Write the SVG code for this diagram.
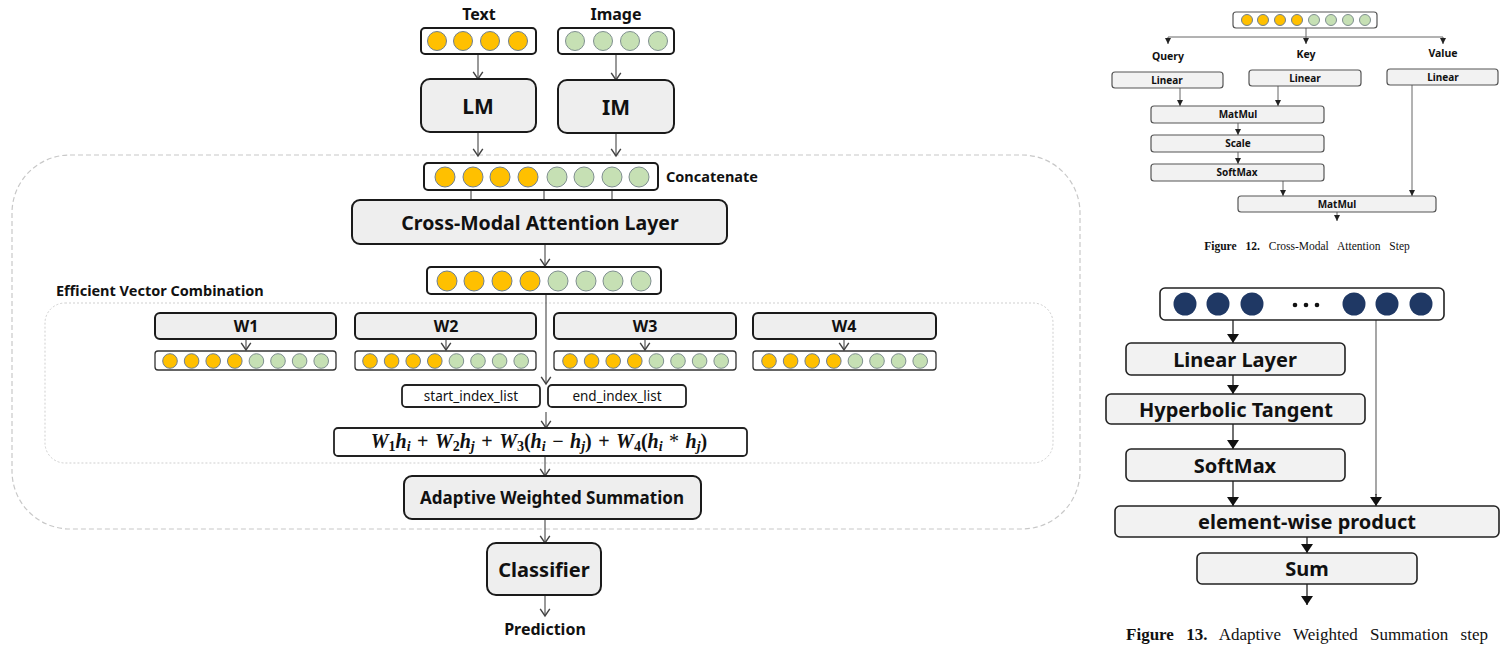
<svg xmlns="http://www.w3.org/2000/svg" xmlns:xlink="http://www.w3.org/1999/xlink" width="1512" height="652" viewBox="0 0 1512 652">
<style>
text{font-family:"Noto Sans","Liberation Sans",sans-serif;fill:#111}
.b{font-weight:bold}
.box{fill:#eeeeee;stroke:#1a1a1a;stroke-width:2}
.vec{fill:#ffffff;stroke:#1a1a1a;stroke-width:2}
.vecs{fill:#ffffff;stroke:#333;stroke-width:1.3}
.o{fill:#ffc000;stroke:#6f7f8f;stroke-width:1}
.g{fill:#c6e0b4;stroke:#7f8f8f;stroke-width:1}
.n{fill:#1f3864}
.ln{stroke:#555;stroke-width:1.2;fill:none}
.la{stroke:#555;stroke-width:1.2;fill:none;marker-end:url(#oa)}
.f12{fill:#f2f2f2;stroke:#555;stroke-width:1.2}
.l12{stroke:#666;stroke-width:1;fill:none}
.a12{stroke:#666;stroke-width:1;fill:none;marker-end:url(#fa12)}
.f13{fill:#f2f2f2;stroke:#222;stroke-width:1.6}
.a13{stroke:#222;stroke-width:1.3;fill:none;marker-end:url(#fa13)}
.l13{stroke:#777;stroke-width:1.3;fill:none}
.serif{font-family:"Liberation Serif","Times New Roman",serif}
.sub{font-size:14px}
.up{font-style:normal}
</style>
<defs>
<marker id="oa" markerUnits="userSpaceOnUse" markerWidth="12" markerHeight="12" viewBox="0 0 8 10" refX="7" refY="5" orient="auto">
<path d="M1,1 L7,5 L1,9" fill="none" stroke="#444" stroke-width="1.2"/>
</marker>
<marker id="fa12" markerUnits="userSpaceOnUse" markerWidth="6" markerHeight="6" viewBox="0 0 6 6" refX="6" refY="3" orient="auto">
<path d="M0,0 L6,3 L0,6 z" fill="#222"/>
</marker>
<marker id="fa13" markerUnits="userSpaceOnUse" markerWidth="10" markerHeight="12" viewBox="0 0 9 12" refX="9" refY="6" orient="auto">
<path d="M0,0 L9,6 L0,12 z" fill="#111"/>
</marker>
<g id="row8">
<circle class="o" cx="15" cy="10" r="7.3"/><circle class="o" cx="36.6" cy="10" r="7.3"/><circle class="o" cx="58.2" cy="10" r="7.3"/><circle class="o" cx="79.8" cy="10" r="7.3"/>
<circle class="g" cx="101.4" cy="10" r="7.3"/><circle class="g" cx="123" cy="10" r="7.3"/><circle class="g" cx="144.6" cy="10" r="7.3"/><circle class="g" cx="166.2" cy="10" r="7.3"/>
</g>
</defs>
<rect width="1512" height="652" fill="#ffffff"/>

<!-- containers -->
<g id="outer-container">
<rect x="12" y="155" width="1068" height="374" rx="58" fill="none" stroke="#c8c8c8" stroke-width="1.2" stroke-dasharray="5,3"/>
</g>
<g id="evc-container">
<rect x="45" y="303" width="1008" height="160" rx="20" fill="none" stroke="#cfcfcf" stroke-width="1" stroke-dasharray="2,2"/>
<text x="56" y="296" class="b" font-size="14.5">Efficient Vector Combination</text>
</g>

<!-- connectors -->
<g id="connectors">
<line class="la" x1="478" y1="54" x2="478" y2="79"/>
<line class="la" x1="616" y1="54" x2="616" y2="80"/>
<line class="la" x1="478" y1="132" x2="478" y2="156"/>
<line class="la" x1="616" y1="133" x2="616" y2="156"/>
<line class="ln" x1="471" y1="190" x2="471" y2="200"/>
<line class="ln" x1="544" y1="190" x2="544" y2="200"/>
<line class="ln" x1="612" y1="190" x2="612" y2="200"/>
<line class="la" x1="545" y1="244" x2="545" y2="266"/>
<line class="la" x1="546" y1="295" x2="546" y2="384"/>
<line class="la" x1="246" y1="339" x2="246" y2="350"/>
<line class="la" x1="446" y1="339" x2="446" y2="350"/>
<line class="la" x1="645" y1="339" x2="645" y2="350"/>
<line class="la" x1="844" y1="339" x2="844" y2="350"/>
<line class="la" x1="546" y1="412" x2="546" y2="428"/>
<line class="la" x1="545" y1="456" x2="545" y2="476"/>
<line class="la" x1="545" y1="519" x2="545" y2="543"/>
<line class="la" x1="545" y1="595" x2="545" y2="616"/>
</g>

<!-- main nodes -->
<g id="text-label"><text x="479" y="20" text-anchor="middle" class="b" font-size="16">Text</text></g>
<g id="image-label"><text x="616" y="20" text-anchor="middle" class="b" font-size="16">Image</text></g>
<g id="text-vector">
<rect class="vec" x="421" y="28" width="115" height="26" rx="4"/>
<circle class="o" cx="437" cy="41" r="9.5"/><circle class="o" cx="463" cy="41" r="9.5"/><circle class="o" cx="490" cy="41" r="9.5"/><circle class="o" cx="518" cy="41" r="9.5"/>
</g>
<g id="image-vector">
<rect class="vec" x="558" y="28" width="116" height="26" rx="4"/>
<circle class="g" cx="575" cy="41" r="9.5"/><circle class="g" cx="603" cy="41" r="9.5"/><circle class="g" cx="630" cy="41" r="9.5"/><circle class="g" cx="658" cy="41" r="9.5"/>
</g>
<g id="lm"><rect class="box" x="421" y="79" width="115" height="53" rx="9"/><text x="478" y="114" text-anchor="middle" class="b" font-size="21">LM</text></g>
<g id="im"><rect class="box" x="558" y="80" width="116" height="53" rx="9"/><text x="616" y="115" text-anchor="middle" class="b" font-size="21">IM</text></g>

<g id="concat-vector">
<rect class="vec" x="424" y="163" width="234" height="27" rx="4"/>
<circle class="o" cx="445" cy="177" r="10"/><circle class="o" cx="473" cy="177" r="10"/><circle class="o" cx="500" cy="177" r="10"/><circle class="o" cx="528" cy="177" r="10"/>
<circle class="g" cx="557" cy="177" r="10"/><circle class="g" cx="584" cy="177" r="10"/><circle class="g" cx="612" cy="177" r="10"/><circle class="g" cx="639" cy="177" r="10"/>
<text x="666" y="182" class="b" font-size="14.5">Concatenate</text>
</g>
<g id="cross-modal"><rect class="box" x="352" y="200" width="375" height="44" rx="8"/><text x="540" y="230" text-anchor="middle" class="b" font-size="19.5">Cross-Modal Attention Layer</text></g>
<g id="attn-vector">
<rect class="vec" x="427" y="267" width="234" height="27" rx="4"/>
<circle class="o" cx="447" cy="281" r="10"/><circle class="o" cx="474" cy="281" r="10"/><circle class="o" cx="502" cy="281" r="10"/><circle class="o" cx="530" cy="281" r="10"/>
<circle class="g" cx="558" cy="281" r="10"/><circle class="g" cx="586" cy="281" r="10"/><circle class="g" cx="613" cy="281" r="10"/><circle class="g" cx="641" cy="281" r="10"/>
</g>

<g id="w1"><rect class="box" x="155" y="313" width="181" height="26" rx="5"/><text x="246" y="332" text-anchor="middle" class="b" font-size="16">W1</text>
<rect class="vecs" x="155" y="351" width="181" height="19" rx="3"/><use xlink:href="#row8" x="155" y="351"/></g>
<g id="w2"><rect class="box" x="355" y="313" width="181" height="26" rx="5"/><text x="446" y="332" text-anchor="middle" class="b" font-size="16">W2</text>
<rect class="vecs" x="355" y="351" width="181" height="19" rx="3"/><use xlink:href="#row8" x="355" y="351"/></g>
<g id="w3"><rect class="box" x="554" y="313" width="182" height="26" rx="5"/><text x="645" y="332" text-anchor="middle" class="b" font-size="16">W3</text>
<rect class="vecs" x="554" y="351" width="182" height="19" rx="3"/><use xlink:href="#row8" x="555" y="351"/></g>
<g id="w4"><rect class="box" x="753" y="313" width="183" height="26" rx="5"/><text x="844" y="332" text-anchor="middle" class="b" font-size="16">W4</text>
<rect class="vecs" x="753" y="351" width="183" height="19" rx="3"/><use xlink:href="#row8" x="754" y="351"/></g>

<g id="start-index"><rect x="402" y="385" width="138" height="22" rx="4" fill="#fff" stroke="#222" stroke-width="1.8"/><text x="471" y="401" text-anchor="middle" font-size="13.5">start_index_list</text></g>
<g id="end-index"><rect x="548" y="385" width="138" height="22" rx="4" fill="#fff" stroke="#222" stroke-width="1.8"/><text x="617" y="401" text-anchor="middle" font-size="13.5">end_index_list</text></g>

<g id="formula"><rect x="334" y="428" width="413" height="28" rx="4" fill="#fff" stroke="#222" stroke-width="1.8"/>
<text x="539" y="448" text-anchor="middle" class="serif" font-weight="bold" font-style="italic" font-size="20" word-spacing="1.5">W<tspan class="sub up" dy="3">1</tspan><tspan dy="-3">h</tspan><tspan class="sub" dy="3">i</tspan><tspan class="up" dy="-3"> + </tspan>W<tspan class="sub up" dy="3">2</tspan><tspan dy="-3">h</tspan><tspan class="sub" dy="3">j</tspan><tspan class="up" dy="-3"> + </tspan>W<tspan class="sub up" dy="3">3</tspan><tspan class="up" dy="-3">(</tspan>h<tspan class="sub" dy="3">i</tspan><tspan class="up" dy="-3"> − </tspan>h<tspan class="sub" dy="3">j</tspan><tspan class="up" dy="-3">) + </tspan>W<tspan class="sub up" dy="3">4</tspan><tspan class="up" dy="-3">(</tspan>h<tspan class="sub" dy="3">i</tspan><tspan class="up" font-weight="normal" dy="-3"> * </tspan>h<tspan class="sub" dy="3">j</tspan><tspan class="up" dy="-3">)</tspan></text></g>

<g id="aws"><rect class="box" x="404" y="476" width="297" height="43" rx="8"/><text x="552" y="504" text-anchor="middle" class="b" font-size="17">Adaptive Weighted Summation</text></g>
<g id="classifier"><rect class="box" x="487" y="543" width="114" height="52" rx="9"/><text x="544" y="577" text-anchor="middle" class="b" font-size="20">Classifier</text></g>
<g id="prediction"><text x="545" y="635" text-anchor="middle" class="b" font-size="16">Prediction</text></g>

<!-- Figure 12 -->
<g id="fig12-connectors">
<line class="l12" x1="1306" y1="28" x2="1306" y2="37"/>
<line class="l12" x1="1168" y1="37" x2="1443" y2="37"/>
<line class="a12" x1="1168" y1="37" x2="1168" y2="44"/>
<line class="a12" x1="1306" y1="37" x2="1306" y2="44"/>
<line class="a12" x1="1443" y1="37" x2="1443" y2="44"/>
<line class="a12" x1="1180" y1="88" x2="1180" y2="106"/>
<line class="a12" x1="1278" y1="86" x2="1278" y2="106"/>
<line class="a12" x1="1238" y1="123" x2="1238" y2="135"/>
<line class="a12" x1="1238" y1="152" x2="1238" y2="164"/>
<line class="a12" x1="1283" y1="181" x2="1283" y2="196"/>
<line class="a12" x1="1412" y1="85" x2="1412" y2="196"/>
<line class="a12" x1="1337" y1="212" x2="1337" y2="221"/>
</g>
<g id="fig12-vector">
<rect x="1233" y="12" width="144" height="16" rx="3" fill="#fff" stroke="#555" stroke-width="1.2"/>
<circle class="o" cx="1247" cy="20" r="5.5"/><circle class="o" cx="1263" cy="20" r="5.5"/><circle class="o" cx="1280" cy="20" r="5.5"/><circle class="o" cx="1297" cy="20" r="5.5"/>
<circle class="g" cx="1314" cy="20" r="5.5"/><circle class="g" cx="1331" cy="20" r="5.5"/><circle class="g" cx="1348" cy="20" r="5.5"/><circle class="g" cx="1365" cy="20" r="5.5"/>
</g>
<g id="fig12-labels">
<text x="1168" y="60" text-anchor="middle" class="b" font-size="10.5">Query</text>
<text x="1306" y="58" text-anchor="middle" class="b" font-size="10.5">Key</text>
<text x="1443" y="57" text-anchor="middle" class="b" font-size="10.5">Value</text>
</g>
<g id="fig12-q-linear"><rect class="f12" x="1112" y="72" width="111" height="16" rx="3"/><text x="1167" y="84" text-anchor="middle" class="b" font-size="10">Linear</text></g>
<g id="fig12-k-linear"><rect class="f12" x="1249" y="70" width="112" height="16" rx="3"/><text x="1305" y="82" text-anchor="middle" class="b" font-size="10">Linear</text></g>
<g id="fig12-v-linear"><rect class="f12" x="1387" y="69" width="111" height="16" rx="3"/><text x="1443" y="81" text-anchor="middle" class="b" font-size="10">Linear</text></g>
<g id="fig12-matmul1"><rect class="f12" x="1151" y="106" width="173" height="17" rx="3"/><text x="1238" y="118" text-anchor="middle" class="b" font-size="10">MatMul</text></g>
<g id="fig12-scale"><rect class="f12" x="1151" y="135" width="173" height="17" rx="3"/><text x="1238" y="147" text-anchor="middle" class="b" font-size="10">Scale</text></g>
<g id="fig12-softmax"><rect class="f12" x="1151" y="164" width="173" height="17" rx="3"/><text x="1237" y="176" text-anchor="middle" class="b" font-size="10">SoftMax</text></g>
<g id="fig12-matmul2"><rect class="f12" x="1238" y="196" width="198" height="16" rx="3"/><text x="1337" y="208" text-anchor="middle" class="b" font-size="10">MatMul</text></g>
<g id="fig12-caption"><text x="1307" y="250" text-anchor="middle" class="serif" font-size="11.5" word-spacing="6"><tspan font-weight="bold">Figure 12.</tspan> Cross-Modal Attention Step</text></g>

<!-- Figure 13 -->
<g id="fig13-connectors">
<line class="a13" x1="1233" y1="320" x2="1233" y2="343"/>
<line class="a13" x1="1233" y1="375" x2="1233" y2="394"/>
<line class="a13" x1="1233" y1="424" x2="1233" y2="449"/>
<line class="a13" x1="1233" y1="481" x2="1233" y2="506"/>
<line class="l13" x1="1376" y1="320" x2="1376" y2="495"/>
<line class="a13" x1="1376" y1="494" x2="1376" y2="506"/>
<line class="a13" x1="1307" y1="537" x2="1307" y2="553"/>
<line class="a13" x1="1307" y1="584" x2="1307" y2="605"/>
</g>
<g id="fig13-vector">
<rect x="1160" y="288" width="284" height="32" rx="5" fill="#fff" stroke="#222" stroke-width="1.6"/>
<circle class="n" cx="1185" cy="304" r="11.5"/><circle class="n" cx="1218" cy="304" r="11.5"/><circle class="n" cx="1252" cy="304" r="11.5"/>
<circle fill="#111" cx="1295" cy="305" r="2.3"/><circle fill="#111" cx="1306" cy="305" r="2.3"/><circle fill="#111" cx="1317" cy="305" r="2.3"/>
<circle class="n" cx="1354" cy="304" r="11.5"/><circle class="n" cx="1387" cy="304" r="11.5"/><circle class="n" cx="1421" cy="304" r="11.5"/>
</g>
<g id="fig13-linear"><rect class="f13" x="1126" y="343" width="219" height="32" rx="5"/><text x="1235" y="367" text-anchor="middle" class="b" font-size="20">Linear Layer</text></g>
<g id="fig13-tanh"><rect class="f13" x="1106" y="394" width="259" height="30" rx="5"/><text x="1236" y="417" text-anchor="middle" class="b" font-size="20">Hyperbolic Tangent</text></g>
<g id="fig13-softmax"><rect class="f13" x="1126" y="449" width="219" height="32" rx="5"/><text x="1235" y="473" text-anchor="middle" class="b" font-size="20">SoftMax</text></g>
<g id="fig13-ewp"><rect class="f13" x="1115" y="506" width="384" height="31" rx="5"/><text x="1307" y="529" text-anchor="middle" class="b" font-size="20">element-wise product</text></g>
<g id="fig13-sum"><rect class="f13" x="1197" y="553" width="220" height="31" rx="5"/><text x="1307" y="576" text-anchor="middle" class="b" font-size="20">Sum</text></g>
<g id="fig13-caption"><text x="1307" y="640" text-anchor="middle" class="serif" font-size="17" word-spacing="8"><tspan font-weight="bold">Figure 13.</tspan> Adaptive Weighted Summation step</text></g>
</svg>
